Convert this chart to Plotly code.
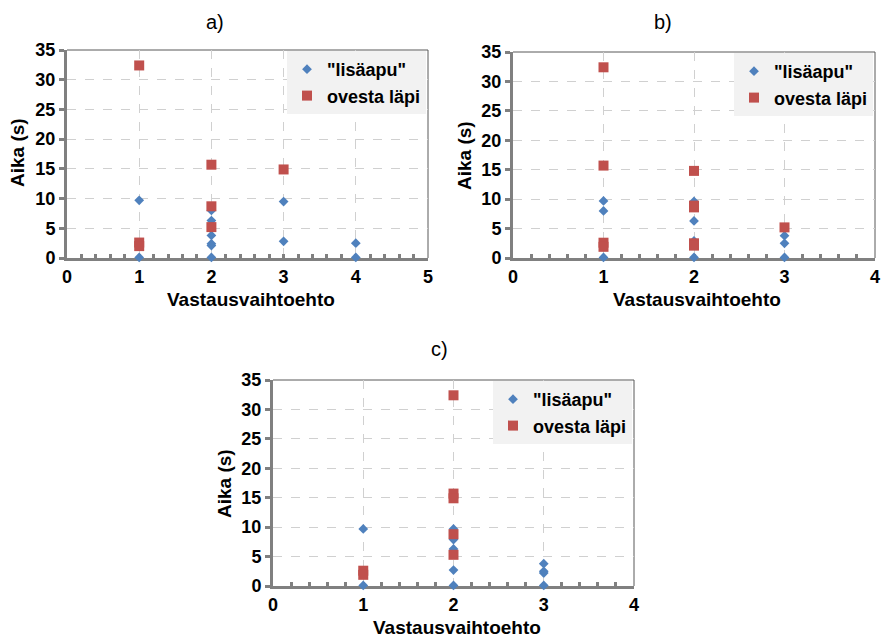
import plotly.graph_objects as go

# ---------------- data ----------------
a_lisa_x = [1, 1, 2, 2, 2, 2, 2, 2, 3, 3, 4, 4]
a_lisa_y = [9.7, 0.1, 8.0, 6.3, 3.8, 2.4, 2.1, 0.1, 9.5, 2.8, 2.5, 0.1]
a_oves_x = [1, 1, 1, 2, 2, 2, 3]
a_oves_y = [32.4, 2.6, 2.0, 15.7, 8.7, 5.2, 14.9]

b_lisa_x = [1, 1, 1, 2, 2, 2, 2, 3, 3, 3]
b_lisa_y = [9.7, 8.0, 0.1, 9.6, 6.3, 2.9, 0.1, 3.8, 2.5, 0.1]
b_oves_x = [1, 1, 1, 1, 2, 2, 2, 2, 2, 3]
b_oves_y = [32.4, 15.7, 2.6, 1.9, 14.8, 8.9, 8.6, 2.5, 2.1, 5.2]

c_lisa_x = [1, 1, 2, 2, 2, 2, 2, 3, 3, 3, 3]
c_lisa_y = [9.7, 0.1, 9.7, 7.9, 6.3, 2.7, 0.1, 3.8, 2.5, 2.2, 0.1]
c_oves_x = [1, 1, 2, 2, 2, 2, 2]
c_oves_y = [2.6, 1.9, 32.4, 15.7, 14.9, 8.8, 5.3]

series_names = ['"lisäapu"', "ovesta läpi"]
panel_titles = ["a)", "b)", "c)"]
x_title = "Vastausvaihtoehto"
y_title = "Aika (s)"
x_max = [5, 4, 4]
y_max = 35

BLUE = "#4F81BD"
RED = "#C0504D"
FONT = "Liberation Sans, Arial, sans-serif"

W, H = 883, 638
# panel pixel boxes: (left, right, top, bottom)
boxes = [(67, 428, 50, 258), (513, 875, 52, 258), (273, 634, 380, 586)]
title_pos = [(215, 22), (663, 22), (439, 349)]

panels = [
    (a_lisa_x, a_lisa_y, a_oves_x, a_oves_y),
    (b_lisa_x, b_lisa_y, b_oves_x, b_oves_y),
    (c_lisa_x, c_lisa_y, c_oves_x, c_oves_y),
]

fig = go.Figure()
annotations = []
shapes = []
layout = {}

for i, (lx, ly, ox, oy) in enumerate(panels):
    n = i + 1
    xa = "x" if n == 1 else f"x{n}"
    ya = "y" if n == 1 else f"y{n}"
    leg = "legend" if n == 1 else f"legend{n}"
    fig.add_trace(go.Scatter(
        x=lx, y=ly, mode="markers", name=series_names[0],
        marker=dict(symbol="diamond", size=7.5, color=BLUE, line=dict(width=0)),
        xaxis=xa, yaxis=ya, legend=leg, cliponaxis=False))
    fig.add_trace(go.Scatter(
        x=ox, y=oy, mode="markers", name=series_names[1],
        marker=dict(symbol="square", size=10, color=RED, line=dict(width=0)),
        xaxis=xa, yaxis=ya, legend=leg, cliponaxis=False))

    l, r, t, b = boxes[i]
    xd = [l / W, r / W]
    yd = [1 - b / H, 1 - t / H]
    xkey = "xaxis" if n == 1 else f"xaxis{n}"
    ykey = "yaxis" if n == 1 else f"yaxis{n}"
    layout[xkey] = dict(
        domain=xd, range=[0, x_max[i]], dtick=1, anchor=ya, automargin=False,
        layer="below traces",
        showline=True, linecolor="#808080", linewidth=3,
        showgrid=True, gridcolor="#D0D0D0", griddash="dash", gridwidth=1,
        zeroline=False, ticks="inside", ticklen=4, tickwidth=3, tickcolor="#808080",
        minor=dict(dtick=0.2, ticks="inside", ticklen=4, tickwidth=3,
                   tickcolor="#808080", showgrid=False),
        tickfont=dict(family=FONT, size=18, color="black", weight="bold"),
        fixedrange=True,
    )
    layout[ykey] = dict(
        domain=yd, range=[0, y_max], dtick=5, anchor=xa, automargin=False,
        layer="below traces",
        showline=True, linecolor="#808080", linewidth=3,
        showgrid=True, gridcolor="#D0D0D0", griddash="dash", gridwidth=1,
        zeroline=False, ticks="outside", ticklen=5, tickwidth=3, tickcolor="#808080",
        tickfont=dict(family=FONT, size=18, color="black", weight="bold"),
        fixedrange=True,
    )
    layout[leg] = dict(
        x=(r - 2) / W, y=1 - (t + 1) / H, xanchor="right", yanchor="top",
        xref="paper", yref="paper",
        bgcolor="#F2F2F2", borderwidth=0,
        font=dict(family=FONT, size=18, color="black", weight="bold"),
        itemwidth=30, tracegroupgap=0,
    )
    # thin frame on top/right of plot area
    shapes.append(dict(type="line", xref=f"{xa} domain", yref=f"{ya} domain", layer="below",
                       x0=0, x1=1, y0=1, y1=1, line=dict(color="#595959", width=1)))
    shapes.append(dict(type="line", xref=f"{xa} domain", yref=f"{ya} domain", layer="below",
                       x0=1, x1=1, y0=0, y1=1, line=dict(color="#595959", width=1)))
    # panel title
    tx, ty = title_pos[i]
    annotations.append(dict(text=panel_titles[i], x=tx / W, y=1 - ty / H, xref="paper", yref="paper",
                            showarrow=False, xanchor="center", yanchor="middle",
                            font=dict(family=FONT, size=20, color="black")))
    # axis titles
    annotations.append(dict(text=x_title, x=((l + r) / 2 + 3) / W, y=1 - (b + 41) / H,
                            xref="paper", yref="paper", showarrow=False,
                            xanchor="center", yanchor="middle",
                            font=dict(family=FONT, size=19, color="black", weight="bold")))
    annotations.append(dict(text=y_title, x=(l - 49) / W, y=1 - (t + 103) / H,
                            xref="paper", yref="paper", showarrow=False, textangle=-90,
                            xanchor="center", yanchor="middle",
                            font=dict(family=FONT, size=19, color="black", weight="bold")))

fig.update_layout(
    width=W, height=H, margin=dict(l=0, r=0, t=0, b=0, pad=0, autoexpand=False),
    paper_bgcolor="white", plot_bgcolor="white",
    showlegend=True, annotations=annotations, shapes=shapes,
    **layout,
)

fig.write_html("out.html", config={"displayModeBar": False},
               post_script="document.body.style.margin='0';document.body.style.overflow='hidden';")
